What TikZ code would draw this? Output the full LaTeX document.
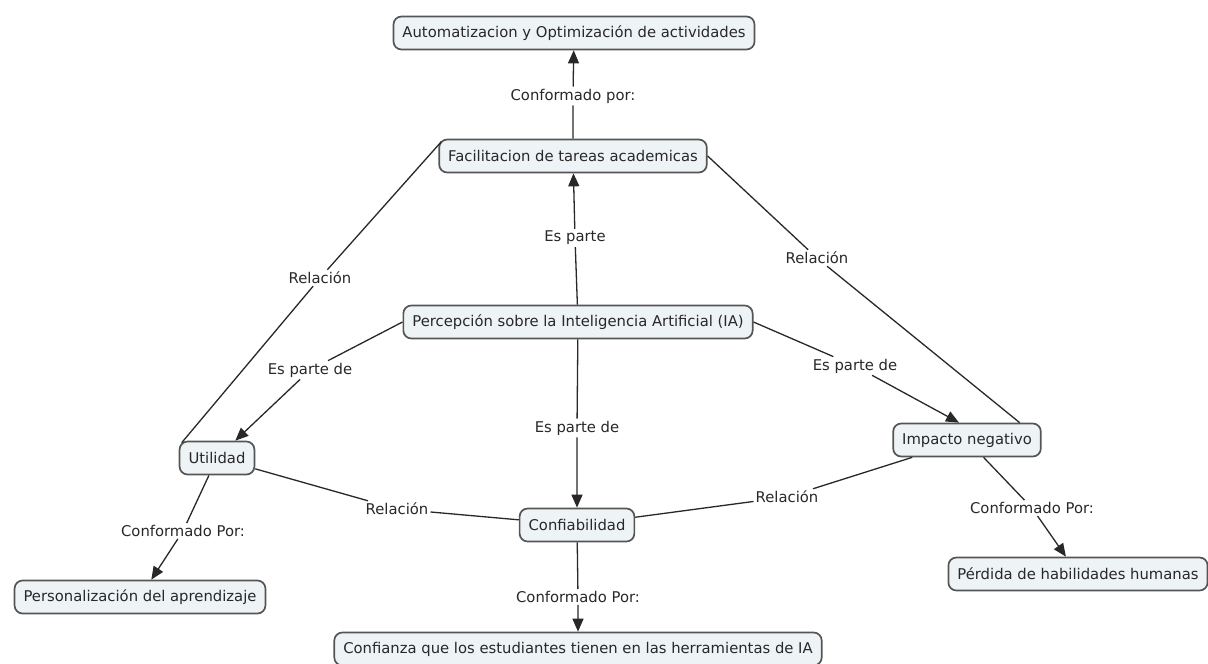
\documentclass[tikz,border=0pt]{standalone}
\usepackage{fontspec}
\setmainfont{DejaVu Sans}
\usetikzlibrary{arrows.meta}
\definecolor{conceptfill}{RGB}{238,243,245}
\definecolor{conceptdraw}{RGB}{85,85,85}
\definecolor{linkline}{RGB}{40,40,40}
\definecolor{textgray}{RGB}{40,40,40}

\begin{document}
\begin{tikzpicture}[x=1pt,y=-1pt,
  concept/.style={draw=conceptdraw, fill=conceptfill, rounded corners=8pt, line width=1.7pt, minimum height=33pt, inner xsep=9pt, text=textgray, font=\fontsize{14.8}{17}\selectfont},
  linkphrase/.style={fill=white, inner sep=2pt, text=textgray, font=\fontsize{14.8}{17}\selectfont},
  rel/.style={draw=linkline, line width=1.3pt},
  arr/.style={rel, -{Triangle[length=13pt,width=11pt]}}]
\useasboundingbox[fill=white] (0,0) rectangle (1208,664);

\node[concept] (auto) at (574,33) {Automatizacion y Optimización de actividades};
\node[concept] (fac) at (573,156) {Facilitacion de tareas academicas};
\node[concept] (perc) at (578,322) {Percepción sobre la Inteligencia Artificial (IA)};
\node[concept] (util) at (217,458) {Utilidad};
\node[concept] (imp) at (967,440) {Impacto negativo};
\node[concept] (conf) at (577,525) {Confiabilidad};
\node[concept] (pers) at (140,597) {Personalización del aprendizaje};
\node[concept] (perd) at (1078,574) {Pérdida de habilidades humanas};
\node[concept] (confi) at (578,649) {Confianza que los estudiantes tienen en las herramientas de IA};

\node[linkphrase] (lConfTop) at (573,96) {Conformado por:};
\node[linkphrase] (lEsParte) at (575,238) {Es parte};
\node[linkphrase] (lRelIzq) at (320,278) {Relación};
\node[linkphrase] (lRelDer) at (817,258) {Relación};
\node[linkphrase] (lParteIzq) at (310,370) {Es parte de};
\node[linkphrase] (lParteDer) at (855,366) {Es parte de};
\node[linkphrase] (lParteCen) at (577,428) {Es parte de};
\node[linkphrase] (lRelAbIzq) at (397,509) {Relación};
\node[linkphrase] (lRelAbDer) at (787,497) {Relación};
\node[linkphrase] (lConfIzq) at (183,531) {Conformado Por:};
\node[linkphrase] (lConfDer) at (1032,508) {Conformado Por:};
\node[linkphrase] (lConfCen) at (578,597) {Conformado Por:};

\draw[arr] (fac) -- (lConfTop) -- (auto);
\draw[arr] (perc) -- (lEsParte) -- (fac);
\draw[arr] (perc.west) -- (lParteIzq) -- (util);
\draw[arr] (perc.east) -- (lParteDer) -- ([xshift=-8pt]imp.north);
\draw[arr] (perc) -- (lParteCen) -- (conf);
\draw[rel] ([shift={(3pt,-3pt)}]fac.north west) -- (lRelIzq) -- ([shift={(3pt,-2pt)}]util.north west);
\draw[rel] (fac.east) -- (lRelDer) -- ([xshift=-22pt]imp.north east);
\draw[rel] (util) -- (lRelAbIzq) -- (conf);
\draw[rel] (imp) -- (lRelAbDer) -- (conf);
\draw[arr] (util) -- (lConfIzq) -- (pers);
\draw[arr] (imp) -- (lConfDer) -- (perd);
\draw[arr] (conf) -- (lConfCen) -- (confi);
\end{tikzpicture}
\end{document}
